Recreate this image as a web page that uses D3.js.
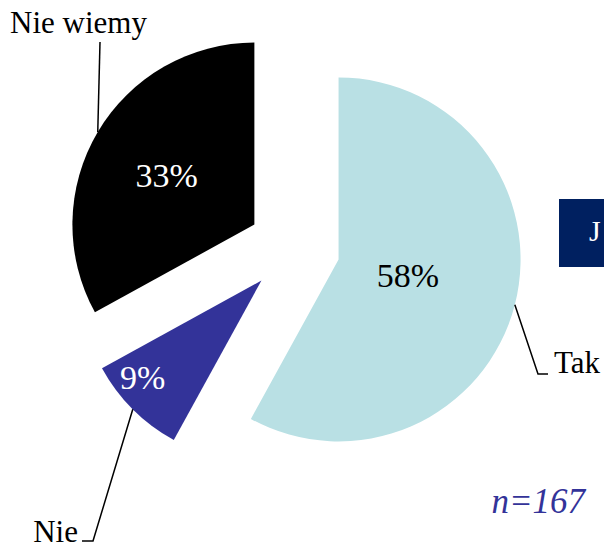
<!doctype html>
<html>
<head>
<meta charset="utf-8">
<script src="https://cdn.jsdelivr.net/npm/d3@7"></script>
<style>
    html, body { margin: 0; padding: 0; background: #fff; }
    svg { display: block; }
    .lbl { font-family: "Times New Roman", "Liberation Serif", serif; }
</style>
</head>
<body>
<div id="viz"></div>
<script>
    // data
    var categories = ["Tak", "Nie", "Nie wiemy"];
    var values = [58, 9, 33];
    var colors = ["#b9e0e4", "#333399", "#000000"];
    var pctColors = ["#000000", "#ffffff", "#ffffff"];
    var sampleNote = "n=167";

    var w = 604, h = 544;
    var cx = 294, cy = 248;
    var r = 182;
    var explode = 46;

    // label placement (layout only): radius + angle shift for the % text,
    // and the bend / end points of the leader lines + text anchor points
    var pctPlace = [
        {r: 71, shift: -2},
        {r: 153, shift: 6},
        {r: 101, shift: -1}
    ];
    var leaderPts = [
        [[538, 374], [548, 374]],
        [[93, 541], [82, 541]],
        [[100, 42]]
    ];
    var catPlace = [
        {x: 554, y: 373, anchor: "start"},
        {x: 78, y: 542, anchor: "end"},
        {x: 10, y: 33, anchor: "start"}
    ];

    var svg = d3.select("#viz").append("svg")
        .attr("width", w)
        .attr("height", h);

    var pie = d3.pie().sort(null).value(function (d) { return d; });
    var arcs = pie(values);
    var total = d3.sum(values);

    var arc = d3.arc().innerRadius(0).outerRadius(r);

    var unit = function (a) {
        return [Math.sin(a), -Math.cos(a)];
    };

    var g = svg.append("g").attr("transform", "translate(" + cx + "," + cy + ")");

    var slices = g.selectAll("g.slice")
        .data(arcs)
        .enter()
        .append("g")
            .attr("class", "slice")
            .attr("transform", function (d) {
                var m = unit((d.startAngle + d.endAngle) / 2);
                return "translate(" + (m[0] * explode) + "," + (m[1] * explode) + ")";
            });

    slices.append("path")
        .attr("d", arc)
        .attr("fill", function (d, i) { return colors[i]; });

    // percentage labels
    slices.append("text")
        .attr("class", "lbl")
        .attr("x", function (d, i) {
            var a = (d.startAngle + d.endAngle) / 2 + pctPlace[i].shift * Math.PI / 180;
            return Math.sin(a) * pctPlace[i].r;
        })
        .attr("y", function (d, i) {
            var a = (d.startAngle + d.endAngle) / 2 + pctPlace[i].shift * Math.PI / 180;
            return -Math.cos(a) * pctPlace[i].r;
        })
        .attr("dy", "0.35em")
        .attr("text-anchor", "middle")
        .attr("font-size", 34)
        .attr("fill", function (d, i) { return pctColors[i]; })
        .text(function (d) { return Math.round(d.value / total * 100) + "%"; });

    // leader lines, in page coordinates
    arcs.forEach(function (d, i) {
        var mid = (d.startAngle + d.endAngle) / 2;
        var m = unit(mid);
        var sx = cx + m[0] * (explode + r);
        var sy = cy + m[1] * (explode + r);
        var pts = [[sx, sy]].concat(leaderPts[i]);
        svg.append("path")
            .attr("d", d3.line()(pts))
            .attr("fill", "none")
            .attr("stroke", "#000")
            .attr("stroke-width", 1.5);
        svg.append("text")
            .attr("class", "lbl")
            .attr("x", catPlace[i].x)
            .attr("y", catPlace[i].y)
            .attr("text-anchor", catPlace[i].anchor)
            .attr("font-size", 31)
            .attr("fill", "#000")
            .text(categories[i]);
    });

    // legend box partially cut off at right edge
    svg.append("rect")
        .attr("x", 559)
        .attr("y", 199)
        .attr("width", 60)
        .attr("height", 68)
        .attr("fill", "#002060");
    svg.append("text")
        .attr("class", "lbl")
        .attr("x", 589)
        .attr("y", 241)
        .attr("font-size", 30)
        .attr("fill", "#fff")
        .text("J");

    svg.append("text")
        .attr("class", "lbl")
        .attr("x", 585)
        .attr("y", 513)
        .attr("text-anchor", "end")
        .attr("font-size", 35)
        .attr("font-style", "italic")
        .attr("fill", "#333399")
        .text(sampleNote);
</script>
</body>
</html>
